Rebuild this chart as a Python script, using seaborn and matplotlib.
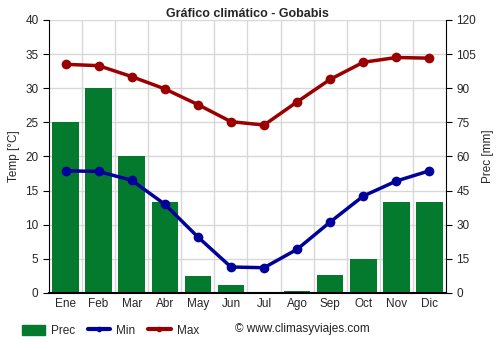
import matplotlib
matplotlib.use("Agg")
import matplotlib.pyplot as plt
import seaborn as sns
import pandas as pd
from matplotlib.patches import Patch
from matplotlib.lines import Line2D

months = ["Ene", "Feb", "Mar", "Abr", "May", "Jun", "Jul", "Ago", "Sep", "Oct", "Nov", "Dic"]
prec_mm = [75, 90, 60, 40, 7.5, 3.5, 0.3, 1, 8, 15, 40, 40]
temp_min = [17.9, 17.8, 16.5, 13.0, 8.2, 3.8, 3.7, 6.4, 10.4, 14.2, 16.4, 17.9]
temp_max = [33.5, 33.3, 31.7, 29.9, 27.6, 25.1, 24.6, 28.0, 31.3, 33.8, 34.5, 34.4]

df = pd.DataFrame({"mes": months, "prec": prec_mm, "min": temp_min, "max": temp_max})

sns.set_style("white")
plt.rcParams["font.family"] = ["Liberation Sans", "DejaVu Sans"]

GREEN = "#047a2f"
BLUE = "#00009a"
RED = "#9a0000"

fig = plt.figure(figsize=(5, 3.5), dpi=100)
ax = fig.add_axes([0.098, 0.163, 0.794, 0.78])
ax2 = ax.twinx()

# precipitation bars on the right-hand axis
sns.barplot(data=df, x="mes", y="prec", color=GREEN, saturation=1, width=0.8,
            linewidth=0, edgecolor=GREEN, ax=ax2, zorder=2)
ax2.set_ylim(0, 120)
ax2.set_yticks(range(0, 121, 15))

# temperature lines on the left-hand axis
ax.set_zorder(ax2.get_zorder() + 1)
ax.patch.set_visible(False)
x = list(range(len(months)))
sns.lineplot(x=x, y=df["min"], ax=ax, color=BLUE, lw=2.5, marker="o",
             markersize=7, markeredgewidth=0)
sns.lineplot(x=x, y=df["max"], ax=ax, color=RED, lw=2.5, marker="o",
             markersize=7, markeredgewidth=0)
ax.set_ylim(0, 40)
ax.set_xlim(-0.5, 11.5)
ax2.set_xlim(-0.5, 11.5)
ax.set_yticks(range(0, 41, 5))
ax.set_xticks(x)
ax.set_xticklabels(months)

# grid: horizontal at temperature ticks, vertical at month boundaries
for yv in range(5, 41, 5):
    ax2.axhline(yv * 3, color="#d8d8d8", lw=1, zorder=0)
for xv in [i + 0.5 for i in range(11)]:
    ax2.axvline(xv, color="#d8d8d8", lw=1, zorder=0)

for a in (ax, ax2):
    for s in a.spines.values():
        s.set_visible(False)
ax.spines["left"].set_visible(True)
ax.spines["bottom"].set_visible(True)
ax2.spines["right"].set_visible(True)
ax.spines["left"].set_color("black")
ax.spines["bottom"].set_color("black")
ax.spines["bottom"].set_linewidth(1.5)
ax2.spines["right"].set_color("black")

ax.tick_params(axis="both", labelsize=8.5, length=4, color="black", left=True, bottom=True)
ax2.tick_params(axis="y", labelsize=8.5, length=4, color="black", right=True)
ax.set_xticks([i + 0.5 for i in range(-1, 12)], minor=True)
ax.tick_params(axis="x", which="major", length=0)
ax.tick_params(axis="x", which="minor", length=4, color="black")

ax.set_xlabel("")
ax2.set_xlabel("")
ax.set_ylabel("Temp [°C]", fontsize=8.5)
ax2.set_ylabel("Prec [mm]", fontsize=8.5)
ax.set_title("Gráfico climático - Gobabis", fontsize=9, fontweight="bold", pad=-9)

handles = [
    Patch(color=GREEN, label="Prec"),
    Line2D([], [], color=BLUE, lw=3, marker="o", markersize=3, label="Min"),
    Line2D([], [], color=RED, lw=3, marker="o", markersize=3, label="Max"),
]
fig.legend(handles=handles, loc="lower left", bbox_to_anchor=(0.04, 0.03),
           ncol=3, frameon=False, fontsize=8.5, handlelength=1.9, handletextpad=0.5,
           columnspacing=1.1, handleheight=1.0, borderaxespad=0, borderpad=0.2)
fig.text(0.47, 0.052, "© www.climasyviajes.com", fontsize=8.5, color="#222222")

fig.savefig("out.png", dpi=100)
